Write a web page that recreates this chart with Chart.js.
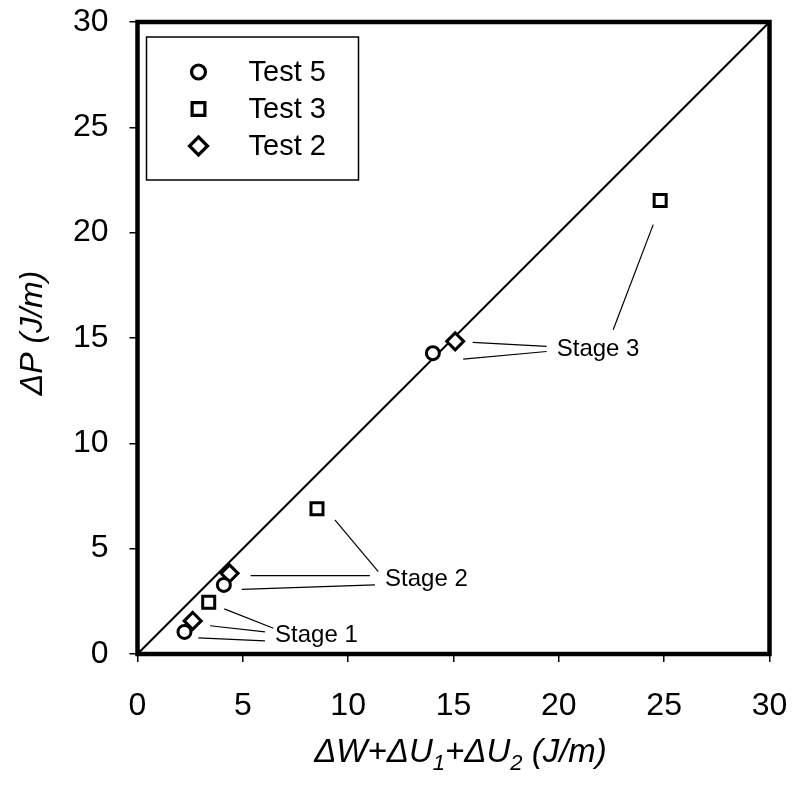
<!DOCTYPE html>
<html>
<head>
<meta charset="utf-8">
<title>Energy balance</title>
<script src="https://cdn.jsdelivr.net/npm/chart.js"></script>
<style>
    body { margin: 0; background: #fff; }
    .chart-box { position: relative; width: 795px; height: 794px; }
</style>
</head>
<body>
<div class="chart-box">
    <canvas id="energyChart" width="795" height="794"></canvas>
</div>
<script>
    // measured points, x = dW+dU1+dU2, y = dP (J/m)
    const test5X = [2.23, 4.10, 14.02];
    const test5Y = [1.05, 3.28, 14.28];
    const test3X = [3.38, 8.52, 24.81];
    const test3Y = [2.46, 6.89, 21.53];
    const test2X = [2.62, 4.37, 15.08];
    const test2Y = [1.57, 3.83, 14.84];

    const seriesNames = ['Test 5', 'Test 3', 'Test 2'];
    const axisTicks = [0, 5, 10, 15, 20, 25, 30];

    // stage labels with leader lines (data units)
    const stageNotes = [
        { text: 'Stage 1', at: [6.53, 0.90],
          leaders: [[2.89, 0.77, 6.05, 0.62], [3.44, 1.34, 6.05, 1.05], [4.12, 2.14, 6.45, 1.22]] },
        { text: 'Stage 2', at: [11.75, 3.52],
          leaders: [[5.37, 3.72, 11.03, 3.72], [4.95, 3.07, 11.27, 3.28], [9.37, 6.37, 11.43, 3.91]] },
        { text: 'Stage 3', at: [19.90, 14.44],
          leaders: [[15.91, 14.79, 19.42, 14.60], [15.46, 14.00, 19.42, 14.36], [24.48, 20.38, 22.58, 15.39]] }
    ];

    const pts = (xs, ys) => xs.map((x, i) => ({ x: x, y: ys[i] }));
    const FONT = "'Liberation Sans', Arial, sans-serif";

    function marker(ctx, style, x, y, r) {
        ctx.beginPath();
        if (style === 'circle') {
            ctx.arc(x, y, r, 0, Math.PI * 2);
        } else if (style === 'rect') {
            const s = r * Math.SQRT1_2;
            ctx.rect(x - s, y - s, 2 * s, 2 * s);
        } else {
            ctx.moveTo(x, y - r); ctx.lineTo(x + r, y);
            ctx.lineTo(x, y + r); ctx.lineTo(x - r, y);
            ctx.closePath();
        }
        ctx.fill();
        ctx.stroke();
    }

    const decorations = {
        id: 'decorations',
        beforeDatasetsDraw(chart) {
            const { ctx, scales: { x, y } } = chart;
            ctx.save();
            // leader lines + stage text
            ctx.strokeStyle = '#000';
            ctx.lineWidth = 1.2;
            stageNotes.forEach(n => {
                n.leaders.forEach(l => {
                    ctx.beginPath();
                    ctx.moveTo(x.getPixelForValue(l[0]), y.getPixelForValue(l[1]));
                    ctx.lineTo(x.getPixelForValue(l[2]), y.getPixelForValue(l[3]));
                    ctx.stroke();
                });
                ctx.fillStyle = '#000';
                ctx.font = '24px ' + FONT;
                ctx.textAlign = 'left';
                ctx.textBaseline = 'middle';
                ctx.fillText(n.text, x.getPixelForValue(n.at[0]), y.getPixelForValue(n.at[1]));
            });
            ctx.restore();
        },
        afterDraw(chart) {
            const { ctx, chartArea: a } = chart;
            ctx.save();
            // heavy frame round the plot
            ctx.strokeStyle = '#000';
            ctx.lineWidth = 4.5;
            ctx.strokeRect(a.left, a.top, a.right - a.left, a.bottom - a.top);

            // legend box
            const lx = a.left + 9, ly = a.top + 15;
            ctx.fillStyle = '#fff';
            ctx.lineWidth = 1.5;
            ctx.fillRect(lx, ly, 212, 143);
            ctx.strokeRect(lx, ly, 212, 143);
            chart.data.datasets.filter(d => seriesNames.includes(d.label)).forEach((d, i) => {
                const ry = ly + 35 + i * 37;
                ctx.fillStyle = '#fff';
                ctx.strokeStyle = '#000';
                ctx.lineWidth = 3.2;
                marker(ctx, d.pointStyle, lx + 52, ry, d.pointRadius + 0.5);
                ctx.fillStyle = '#000';
                ctx.font = '29px ' + FONT;
                ctx.textAlign = 'left';
                ctx.textBaseline = 'middle';
                ctx.fillText(d.label, lx + 102, ry + 1);
            });

            // axis titles
            ctx.fillStyle = '#000';
            ctx.textBaseline = 'alphabetic';
            const parts = [['\u0394W+\u0394U', 0], ['1', 1], ['+\u0394U', 0], ['2', 1], [' (J/m)', 0]];
            const big = 'italic 33px ' + FONT, small = 'italic 22px ' + FONT;
            let total = 0;
            parts.forEach(p => { ctx.font = p[1] ? small : big; total += ctx.measureText(p[0]).width; });
            let tx = (a.left + a.right) / 2 + 7 - total / 2;
            ctx.textAlign = 'left';
            parts.forEach(p => {
                ctx.font = p[1] ? small : big;
                ctx.fillText(p[0], tx, 762 + (p[1] ? 8 : 0));
                tx += ctx.measureText(p[0]).width;
            });

            ctx.translate(33, (a.top + a.bottom) / 2 - 5);
            ctx.rotate(-Math.PI / 2);
            ctx.font = 'italic 32px ' + FONT;
            ctx.textAlign = 'center';
            ctx.textBaseline = 'middle';
            ctx.fillText('\u0394P (J/m)', 0, 0);
            ctx.restore();
        }
    };

    const axisStyle = (fit, pad) => ({
        type: 'linear',
        min: 0,
        max: 30,
        afterBuildTicks: s => { s.ticks = axisTicks.map(v => ({ value: v })); },
        afterFit: fit,
        grid: {
            drawOnChartArea: false,
            drawTicks: true,
            tickLength: 8,
            lineWidth: 1.5,
            color: '#000'
        },
        border: { display: false },
        ticks: {
            color: '#000',
            padding: pad,
            font: { family: FONT, size: 32 }
        }
    });

    new Chart(document.getElementById('energyChart'), {
        type: 'scatter',
        data: {
            datasets: [
                { label: 'Test 5', data: pts(test5X, test5Y), pointStyle: 'circle', pointRadius: 6.5,
                  borderColor: '#000', backgroundColor: '#fff', borderWidth: 3, order: 1 },
                { label: 'Test 3', data: pts(test3X, test3Y), pointStyle: 'rect', pointRadius: 8.5,
                  borderColor: '#000', backgroundColor: '#fff', borderWidth: 3, order: 1 },
                { label: 'Test 2', data: pts(test2X, test2Y), pointStyle: 'rectRot', pointRadius: 8.5,
                  borderColor: '#000', backgroundColor: '#fff', borderWidth: 3, order: 1 },
                { label: '1:1', type: 'line', data: [{ x: 0, y: 0 }, { x: 30, y: 30 }],
                  borderColor: '#000', borderWidth: 2, pointRadius: 0, order: 2 }
            ]
        },
        options: {
            responsive: false,
            animation: false,
            layout: { padding: { left: 0, top: 22, right: 25.5, bottom: 0 } },
            plugins: {
                legend: { display: false },
                tooltip: { enabled: false }
            },
            scales: {
                // fixed axis sizes; label overhang is ignored so the plot box stays put
                x: axisStyle(s => { s.height = 140; s.paddingLeft = 0; s.paddingRight = 0; }, 25),
                y: axisStyle(s => { s.width = 137.5; s.paddingTop = 0; s.paddingBottom = 0; }, 21)
            }
        },
        plugins: [decorations]
    });
</script>
</body>
</html>
